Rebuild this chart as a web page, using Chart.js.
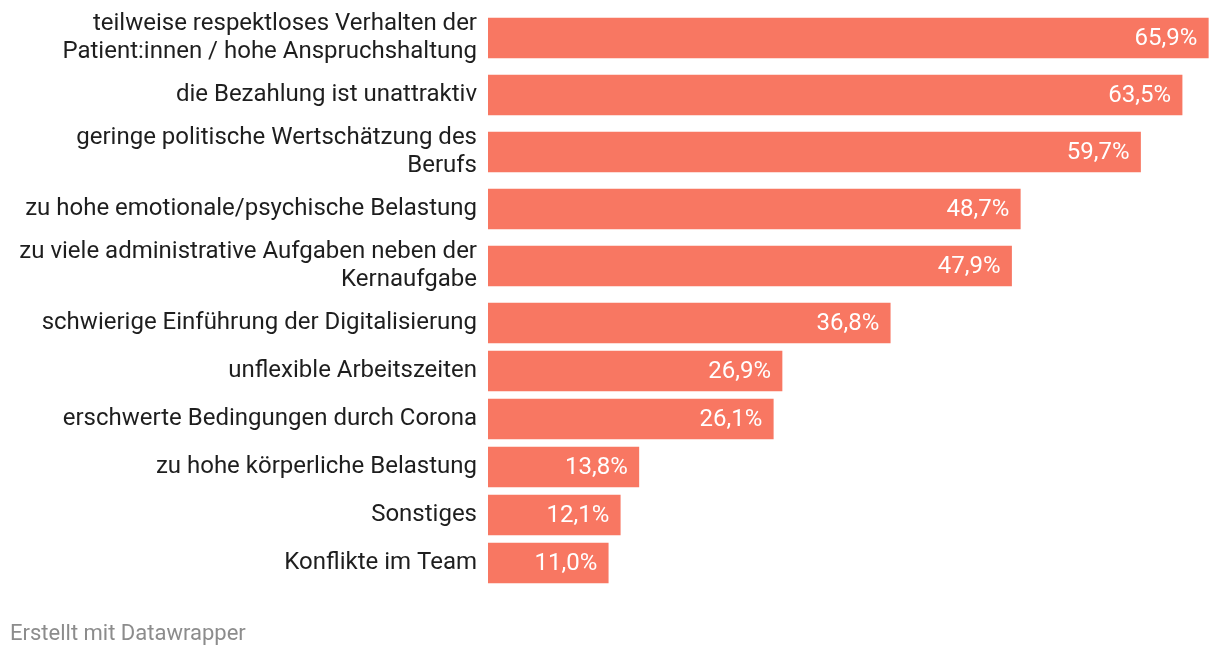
<!DOCTYPE html>
<html>
<head>
<meta charset="utf-8">
<script src="https://cdn.jsdelivr.net/npm/chart.js@4"></script>
<style>
  html, body { margin: 0; padding: 0; background: #fff; }
  #wrap { position: relative; width: 1220px; height: 660px; }
  #footer { position: absolute; left: 10px; top: 620px; font: 22px Roboto, sans-serif; color: #8c8c8c; }
</style>
</head>
<body>
<div id="wrap">
  <canvas id="barChart" width="1220" height="660"></canvas>
  <div id="footer">Erstellt mit Datawrapper</div>
</div>
<script>
// ---------- Gründe / Anteile ----------
var categories = [
  ["teilweise respektloses Verhalten der", "Patient:innen / hohe Anspruchshaltung"],
  "die Bezahlung ist unattraktiv",
  ["geringe politische Wertschätzung des", "Berufs"],
  "zu hohe emotionale/psychische Belastung",
  ["zu viele administrative Aufgaben neben der", "Kernaufgabe"],
  "schwierige Einführung der Digitalisierung",
  "unflexible Arbeitszeiten",
  "erschwerte Bedingungen durch Corona",
  "zu hohe körperliche Belastung",
  "Sonstiges",
  "Konflikte im Team"
];
var values = [65.9, 63.5, 59.7, 48.7, 47.9, 36.8, 26.9, 26.1, 13.8, 12.1, 11.0];

// row height depends on how many lines the label has
var rowSingle = 48, rowDouble = 66;
var centers = [];
var acc = 0;
categories.forEach(function (c) {
  var h = Array.isArray(c) ? rowDouble : rowSingle;
  centers.push(acc + h / 2);
  acc += h;
});
var total = acc;

function fmt(v) {
  return v.toFixed(1).replace('.', ',') + '%';
}

var valueLabels = {
  id: 'valueLabels',
  afterDatasetsDraw: function (chart) {
    var ctx = chart.ctx;
    var meta = chart.getDatasetMeta(0);
    ctx.save();
    ctx.font = '24px Roboto';
    ctx.fillStyle = '#ffffff';
    ctx.textAlign = 'right';
    ctx.textBaseline = 'middle';
    meta.data.forEach(function (bar, i) {
      ctx.fillText(fmt(values[i]), bar.x - 11, bar.y + 1);
    });
    ctx.restore();
  }
};

var ctx = document.getElementById('barChart').getContext('2d');
var myChart = new Chart(ctx, {
  type: 'bar',
  data: {
    datasets: [{
      data: values.map(function (v, i) { return { x: v, y: centers[i] }; }),
      backgroundColor: '#f87762',
      barThickness: 40,
      borderWidth: 0
    }]
  },
  options: {
    responsive: false,
    animation: false,
    indexAxis: 'y',
    layout: { padding: { top: 5, bottom: 73, left: 0, right: 10.6 } },
    plugins: {
      legend: { display: false },
      tooltip: { enabled: false }
    },
    scales: {
      x: {
        display: false,
        min: 0,
        max: 66
      },
      y: {
        type: 'linear',
        reverse: true,
        min: 0,
        max: total,
        offset: false,
        border: { display: false },
        grid: { display: false, drawTicks: false },
        afterBuildTicks: function (scale) {
          scale.ticks = centers.map(function (c) { return { value: c }; });
        },
        afterFit: function (scale) {
          scale.width = 488;
          scale.paddingTop = 0;
          scale.paddingBottom = 0;
        },
        ticks: {
          autoSkip: false,
          padding: 11,
          color: '#1e1e1e',
          font: { family: 'Roboto', size: 24, lineHeight: 1.2 },
          callback: function (value) {
            var i = centers.indexOf(value);
            return i >= 0 ? categories[i] : '';
          }
        }
      }
    }
  },
  plugins: [valueLabels]
});
</script>
</body>
</html>
